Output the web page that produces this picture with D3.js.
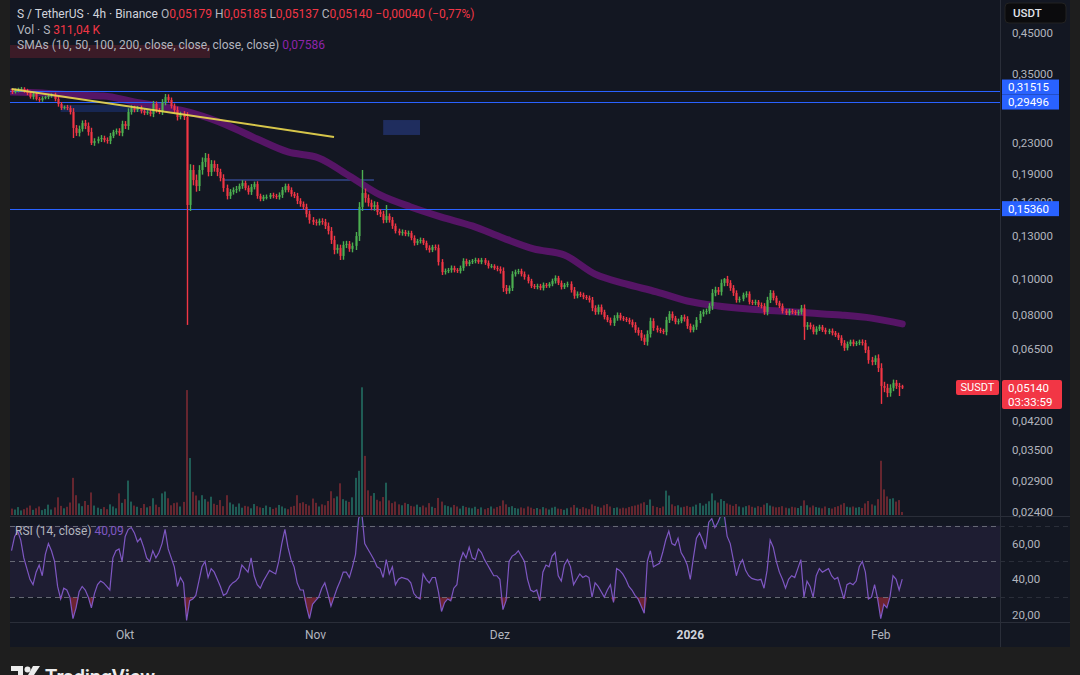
<!DOCTYPE html>
<html>
<head>
<meta charset="utf-8">
<script src="https://cdn.jsdelivr.net/npm/d3@7"></script>
<style>
  html, body { margin: 0; padding: 0; background: #1e1e1e; }
  svg { display: block; font-family: "Roboto", "Liberation Sans", sans-serif; }
</style>
</head>
<body>
<svg id="chart" width="1080" height="675"></svg>
<script>
// ---- data (12h bars), first bar 12 Sep 2025 12:00 UTC ----
const firstOpen = 0.3156;
const closes = [
  .3136,.3175,.3175,.3194,.3156,.3117,.3042,.3098,.3005,.2987,
  .3023,.3041,.3060,.3079,.3005,.2914,.2844,.2861,.2844,.2775,
  .2517,.2441,.2501,.2594,.2547,.2456,.2295,.2324,.2352,.2367,
  .2338,.2324,.2396,.2456,.2471,.2441,.2579,.2547,.2775,.2844,
  .2809,.2844,.2792,.2758,.2775,.2741,.2914,.2809,.2775,.2950,
  .3041,.2987,.2878,.2809,.2691,.2741,.2691,.1571,.1946,.1830,
  .1764,.1946,.2044,.2094,.1922,.2019,.1970,.1922,.1853,.1743,
  .1660,.1701,.1722,.1732,.1764,.1797,.1743,.1701,.1754,.1786,
  .1660,.1630,.1650,.1650,.1670,.1660,.1650,.1670,.1722,.1764,
  .1722,.1680,.1660,.1610,.1581,.1552,.1486,.1433,.1416,.1407,
  .1424,.1416,.1382,.1340,.1268,.1193,.1208,.1150,.1230,.1238,
  .1201,.1223,.1299,.1552,.1690,.1640,.1591,.1552,.1571,.1505,
  .1486,.1433,.1468,.1433,.1382,.1340,.1323,.1331,.1315,.1323,
  .1284,.1245,.1260,.1268,.1245,.1208,.1193,.1215,.1208,.1108,
  .1042,.1049,.1055,.1068,.1055,.1049,.1068,.1115,.1095,.1108,
  .1115,.1122,.1108,.1122,.1102,.1081,.1081,.1068,.1062,.1049,
  .0945,.0928,.0945,.1029,.1042,.1049,.1029,.1011,.0987,.0957,
  .0951,.0957,.0945,.0963,.0957,.0969,.0987,.1005,.0975,.0951,
  .0963,.0969,.0934,.0901,.0912,.0906,.0895,.0889,.0878,.0836,
  .0816,.0841,.0816,.0791,.0777,.0763,.0786,.0801,.0786,.0782,
  .0777,.0768,.0754,.0731,.0718,.0697,.0680,.0713,.0772,.0740,
  .0731,.0727,.0722,.0777,.0806,.0786,.0768,.0772,.0791,.0782,
  .0749,.0731,.0745,.0777,.0806,.0816,.0821,.0847,.0917,.0934,
  .0923,.0975,.0999,.0975,.0945,.0917,.0878,.0884,.0906,.0912,
  .0868,.0863,.0868,.0852,.0847,.0816,.0878,.0917,.0889,.0863,
  .0847,.0821,.0811,.0821,.0816,.0811,.0816,.0836,.0745,.0754,
  .0745,.0722,.0736,.0745,.0731,.0722,.0727,.0718,.0709,.0697,
  .0675,.0655,.0671,.0680,.0671,.0675,.0680,.0675,.0647,.0608,
  .0601,.0615,.0579,.0519,.0513,.0497,.0513,.0529,.0519,.0518,
  .0514
];
// wick length beyond the body, in percent of price
const wickPct = [
  1.2,0.9,1.4,0.8,1.1,1.3,1.0,1.5,0.9,1.2,
  1.1,0.8,1.3,1.0,1.4,1.6,1.2,0.9,1.3,1.5,
  2.4,1.8,2.1,1.6,1.9,2.2,2.6,1.7,1.5,1.8,
  1.4,1.6,1.9,1.3,1.5,1.7,2.0,1.8,2.3,1.6,
  1.4,1.2,1.5,1.3,1.1,1.4,1.9,1.6,1.3,1.8,
  2.0,1.7,1.5,1.6,2.1,1.4,1.8,3.0,3.6,3.2,
  3.4,3.0,2.8,3.1,2.6,2.4,2.2,2.5,2.0,2.3,
  2.1,1.8,1.6,1.9,1.5,1.7,1.4,1.6,1.8,1.5,
  1.7,1.4,1.3,1.5,1.2,1.4,1.3,1.6,1.8,1.5,
  1.4,1.6,1.3,1.9,1.7,1.5,2.0,2.2,1.8,1.6,
  1.5,1.7,1.9,2.1,2.4,2.6,2.2,2.0,2.3,1.9,
  1.8,2.1,2.5,3.0,2.4,2.8,2.2,2.0,2.3,1.9,
  1.8,2.0,1.7,1.6,1.8,1.5,1.4,1.6,1.3,1.5,
  1.4,1.6,1.3,1.5,1.2,1.4,1.6,1.3,1.5,2.1,
  1.8,1.5,1.3,1.6,1.4,1.2,1.5,1.7,1.4,1.3,
  1.2,1.4,1.1,1.3,1.2,1.5,1.3,1.1,1.4,1.6,
  2.2,1.9,1.6,1.8,1.5,1.3,1.4,1.6,1.5,1.3,
  1.2,1.4,1.3,1.5,1.2,1.1,1.4,1.6,1.3,1.5,
  1.2,1.4,1.6,1.8,1.5,1.3,1.4,1.2,1.5,1.9,
  1.7,1.5,1.6,1.4,1.3,1.5,1.8,1.6,1.4,1.3,
  1.2,1.4,1.5,1.7,1.6,1.8,2.0,2.3,2.1,1.7,
  1.5,1.4,1.3,2.0,1.8,1.6,1.4,1.5,1.3,1.6,
  1.7,1.5,1.4,1.8,1.9,1.6,1.5,1.7,2.4,2.0,
  1.8,2.2,2.0,1.9,1.7,1.8,1.6,1.5,1.4,1.6,
  1.5,1.3,1.4,1.2,1.5,1.7,2.0,1.8,1.5,1.4,
  1.3,1.5,1.2,1.4,1.3,1.2,1.4,1.6,2.2,1.8,
  1.5,1.4,1.6,1.3,1.2,1.4,1.3,1.5,1.2,1.4,
  1.6,1.8,1.5,1.3,1.4,1.2,1.3,1.5,1.9,2.2,
  2.0,1.8,2.4,3.0,2.6,2.5,2.2,2.0,1.8,1.9,
  0.9
];
// notable wicks: [bar index, price]
const wickHighs = [[3,.3235],[50,.3098],[114,.1946],[122,.1571],[232,.1005],[257,.0852]];
const wickLows = [[20,.2367],[26,.2267],[57,.0754],[107,.1122],[160,.0923],[206,.0667],[258,.0688],[283,.0465],[289,.0488]];

// volume in millions S
const volumes = [
  2.1,1.8,2.6,1.5,1.9,2.4,3.1,1.7,2.2,2.8,
  1.6,2.0,3.4,1.8,2.5,5.8,3.0,2.2,2.7,4.1,
  12.2,6.5,3.8,2.9,4.6,3.3,7.4,3.1,2.4,2.0,
  2.6,1.9,3.5,2.8,2.2,7.1,4.0,5.2,11.3,4.4,
  3.1,2.7,2.3,3.6,2.5,2.9,5.5,3.4,2.6,7.1,
  7.7,5.5,3.2,3.9,4.1,2.8,4.3,41.0,18.7,7.6,
  6.4,4.8,6.5,5.2,4.4,6.0,3.7,3.3,4.9,2.9,
  6.5,4.1,3.5,2.7,3.8,2.4,3.0,2.8,2.2,3.6,
  2.9,2.5,2.3,3.1,2.6,2.0,2.4,3.3,2.8,2.2,
  1.9,2.7,3.0,6.5,3.9,4.2,3.6,3.1,5.4,4.0,
  2.8,3.5,3.2,4.6,7.8,5.5,6.1,10.4,5.2,4.7,
  4.3,5.8,12.2,14.5,41.9,19.4,8.1,6.3,7.2,5.0,
  4.5,5.9,10.6,4.8,3.9,4.4,3.5,3.2,4.0,3.6,
  3.0,2.8,3.4,2.6,3.1,2.5,3.9,2.7,2.3,5.6,
  4.4,3.2,2.9,2.5,3.3,2.8,2.1,3.0,2.6,2.4,
  2.2,2.7,2.0,2.5,1.9,2.3,2.8,2.1,2.6,3.0,
  4.8,3.5,2.6,2.9,2.3,2.1,2.5,2.2,2.8,2.4,
  2.0,2.3,1.9,2.6,2.2,1.8,2.4,2.7,2.1,2.0,
  1.7,2.2,2.5,3.3,2.4,2.0,2.6,2.2,1.9,3.5,
  3.0,2.7,2.4,3.2,3.6,2.8,2.3,2.5,2.1,2.4,
  2.2,2.6,2.9,3.1,3.4,3.8,4.2,3.3,5.1,3.0,
  2.6,2.3,2.8,8.0,6.4,3.5,2.9,3.2,2.5,2.7,
  3.0,2.6,2.8,3.4,3.9,3.1,3.7,4.5,7.1,4.8,
  4.1,5.2,4.6,3.8,3.4,3.0,3.6,2.8,2.5,2.9,
  3.2,2.7,2.4,2.9,2.6,3.4,3.9,3.1,2.8,2.5,
  2.6,2.9,2.4,2.2,2.7,2.5,2.3,3.0,4.8,3.2,
  2.5,3.1,2.6,2.4,2.2,2.8,2.3,2.1,2.6,2.9,
  3.4,3.9,2.7,2.5,2.8,2.4,2.6,2.3,3.8,4.6,
  3.5,3.1,5.2,17.8,8.4,6.1,5.3,5.5,4.4,4.9,
  1.0
];

const rsiValues = [
  56,64,67,62,52,46,40,37,44,48,
  42,54,60,56,50,36,29,35,34,30,
  18,24,33,36,34,30,24,32,37,39,
  38,36,34,52,56,57,50,64,68,69,
  66,61,63,58,52,50,56,52,55,60,
  68,57,52,47,36,41,38,17,28,29,
  31,39,47,50,41,46,44,40,36,31,
  32,36,38,39,41,48,46,44,52,42,
  37,35,39,42,45,44,43,50,60,68,
  58,51,47,38,34,34,25,18,26,28,
  30,35,38,32,25,30,35,39,44,44,
  41,47,54,74,78,60,57,54,51,47,
  46,41,51,43,47,37,40,41,40.5,40,
  38,32,30,29,43,40,38,41,41,33,
  22,27,29,28,35,37,50,55,52,58,
  52,51,57,55,51,48,45,42,42,40,
  23,28,50,53,54,56,53,50,40,34,
  33,34,28,44,48,47,53,55,42,39,
  48,51,47,37,40,43,41,42,41,30,
  38,36,33,30,34,37,27,46,45,43,
  40,36,34,31,29,25,21,50,56,47,
  48,49,55,62,67,60,59,63,55,52,
  48,40,52,63,66,62,57,72,74,69,
  72,76,77,64,60,51,42,48,51,45,
  42,40.5,40,39.5,40,35,45,62,58,50,
  44,40,35,40,42,41,46,51,30,39,
  36,30,42,46,44,45,46,42,40,41,
  35,29,37,38,37,39,47,50,44,29,
  30,37,29,18,26,24,30,42,40,34,
  40.09
];

// SMA 200 read every 10 bars
const smaValues = [
  .3136,.3117,.3079,.3060,.2950,.2861,.2741,.2563,.2352,.2173,
  .2094,.1876,.1670,.1552,.1459,.1382,.1284,.1201,.1157,.1029,
  .0969,.0923,.0873,.0847,.0831,.0821,.0811,.0801,.0786,.07586
];
const smaStep = 10;

const levels = [0.31515, 0.29496, 0.15360];
const trendLine = [[0, 0.3194], [105, 0.2382]];
const priceTicks = [0.45, 0.35, 0.23, 0.19, 0.16, 0.13, 0.10, 0.08, 0.065, 0.042, 0.035, 0.029, 0.024];
const rsiTicks = [60, 40, 20];
const rsiLevels = [70, 50, 30];
const monthTicks = [["2025-10-01", "Okt"], ["2025-11-01", "Nov"], ["2025-12-01", "Dez"], ["2026-01-01", "2026"], ["2026-02-01", "Feb"]];
const lastBar = { o: 0.05179, h: 0.05185, l: 0.05137, c: 0.05140, chg: -0.00040, pct: -0.77, vol: "311,04 K" };
const lastRsi = 40.09;
const countdown = "03:33:59";

// ---- setup ----
const up = "#4caf50", down = "#f23645";
const volUp = "#1f5c55", volDown = "#66262f";
const t0 = Date.UTC(2025, 8, 12, 12);
const bars = closes.map((c, i) => ({
  i, c,
  t: new Date(t0 + i * 12 * 3600e3),
  o: i ? closes[i - 1] : firstOpen,
  v: volumes[i], rsi: rsiValues[i], w: wickPct[i] / 100
}));
bars.forEach(b => {
  b.h = Math.max(b.o, b.c) * (1 + b.w);
  b.l = Math.min(b.o, b.c) * (1 - b.w);
});
wickHighs.forEach(([i, p]) => bars[i].h = p);
wickLows.forEach(([i, p]) => bars[i].l = p);

const svg = d3.select("#chart");
const L = 10, R = 1000, PR = 1070;
const x = d3.scaleUtc().domain([Date.UTC(2025, 8, 12, 6), Date.UTC(2026, 1, 20, 10)]).range([L, R]);
const y = d3.scaleLog().domain([0.45, 0.024]).range([33, 512]);
const yv = d3.scaleLinear().domain([0, 42]).range([515, 387]);
const yr = d3.scaleLinear().domain([20, 60]).range([615, 543.6]);
const comma = s => s.replace(".", ",").replace("-", "\u2212");
const f5 = p => comma(d3.format(".5f")(p));
const col = d => d.c >= d.o ? up : down;

// panel background
svg.append("rect").attr("x", L).attr("y", 0).attr("width", PR - L).attr("height", 647).attr("fill", "#131722");

const defs = svg.append("defs");
defs.append("clipPath").attr("id", "mainClip").append("rect").attr("x", L).attr("y", 0).attr("width", R - L).attr("height", 516);
defs.append("clipPath").attr("id", "rsiClip").append("rect").attr("x", L).attr("y", 517).attr("width", R - L).attr("height", 105);

const main = svg.append("g").attr("clip-path", "url(#mainClip)");

// drawings: boxes and lines
main.append("rect").attr("x", L).attr("y", 45).attr("width", 200).attr("height", 13).attr("fill", "#3b1b27");
main.append("rect").attr("x", x(bars[16].t)).attr("y", y(0.2896)).attr("width", x(bars[46].t) - x(bars[16].t))
  .attr("height", y(0.2775) - y(0.2896)).attr("fill", "#2962ff").attr("opacity", 0.22);
main.append("rect").attr("x", x(bars[121].t)).attr("y", y(0.2642)).attr("width", x(bars[133].t) - x(bars[121].t))
  .attr("height", y(0.2411) - y(0.2642)).attr("fill", "#1f2d5e");
main.append("line").attr("x1", x(bars[69].t)).attr("x2", x(bars[118].t)).attr("y1", y(0.1830)).attr("y2", y(0.1830))
  .attr("stroke", "#2a3a70").attr("stroke-width", 2);

// volume
main.append("g").selectAll("rect").data(bars).join("rect")
  .attr("x", d => Math.round(x(d.t)) - 1).attr("width", 2)
  .attr("y", d => yv(d.v)).attr("height", d => 515 - yv(d.v))
  .attr("fill", d => d.c >= d.o ? volUp : volDown);

// SMA
const sma = smaValues.map((p, k) => ({ t: bars[k * smaStep].t, p }));
main.append("path").datum(sma)
  .attr("d", d3.line().x(d => x(d.t)).y(d => y(d.p)).curve(d3.curveMonotoneX))
  .attr("fill", "none").attr("stroke", "#561566").attr("stroke-width", 7).attr("stroke-linecap", "round");

// horizontal levels
main.append("g").selectAll("line").data(levels).join("line")
  .attr("x1", L).attr("x2", R).attr("y1", d => Math.round(y(d)) + 0.5).attr("y2", d => Math.round(y(d)) + 0.5)
  .attr("stroke", "#2962ff").attr("stroke-width", 1);

// candles
const cg = main.append("g");
cg.selectAll("line").data(bars).join("line")
  .attr("x1", d => Math.round(x(d.t)) + 0.5).attr("x2", d => Math.round(x(d.t)) + 0.5)
  .attr("y1", d => y(d.h)).attr("y2", d => y(d.l))
  .attr("stroke", col).attr("stroke-width", 1.4);
cg.selectAll("rect").data(bars).join("rect")
  .attr("x", d => Math.round(x(d.t)) - 0.5).attr("width", 2)
  .attr("y", d => y(Math.max(d.o, d.c)))
  .attr("height", d => Math.max(1, y(Math.min(d.o, d.c)) - y(Math.max(d.o, d.c))))
  .attr("fill", col);

// yellow trend line
main.append("line")
  .attr("x1", x(bars[trendLine[0][0]].t)).attr("y1", y(trendLine[0][1]))
  .attr("x2", x(bars[trendLine[1][0]].t)).attr("y2", y(trendLine[1][1]))
  .attr("stroke", "#ecd94f").attr("stroke-width", 2).attr("opacity", 0.9);

// ---- RSI pane ----
const rg = svg.append("g").attr("clip-path", "url(#rsiClip)");
rg.append("rect").attr("x", L).attr("y", yr(70)).attr("width", R - L).attr("height", yr(30) - yr(70))
  .attr("fill", "#7e57c2").attr("opacity", 0.1);
rg.append("path").datum(bars)
  .attr("d", d3.area().x(d => x(d.t)).y0(yr(30)).y1(d => yr(Math.min(d.rsi, 30))))
  .attr("fill", "#f23645").attr("opacity", 0.4);
rg.append("path").datum(bars)
  .attr("d", d3.area().x(d => x(d.t)).y0(yr(70)).y1(d => yr(Math.max(d.rsi, 70))))
  .attr("fill", "#089981").attr("opacity", 0.15);
rg.append("g").selectAll("line").data(rsiLevels).join("line")
  .attr("x1", L).attr("x2", R).attr("y1", d => Math.round(yr(d)) + 0.5).attr("y2", d => Math.round(yr(d)) + 0.5)
  .attr("stroke", "#787b86").attr("stroke-dasharray", "5,4").attr("opacity", 0.8);
rg.append("path").datum(bars)
  .attr("d", d3.line().x(d => x(d.t)).y(d => yr(d.rsi)))
  .attr("fill", "none").attr("stroke", "#7e57c2").attr("stroke-width", 1.2);

// dashed levels also run under the price scale
svg.append("g").selectAll("line").data(rsiLevels).join("line")
  .attr("x1", R).attr("x2", PR).attr("y1", d => Math.round(yr(d)) + 0.5).attr("y2", d => Math.round(yr(d)) + 0.5)
  .attr("stroke", "#2a2e39").attr("stroke-dasharray", "5,4");

// separators
svg.append("line").attr("x1", R + 0.5).attr("x2", R + 0.5).attr("y1", 0).attr("y2", 647).attr("stroke", "#2a2e39");
svg.append("line").attr("x1", L).attr("x2", PR).attr("y1", 516.5).attr("y2", 516.5).attr("stroke", "#2a2e39");
svg.append("line").attr("x1", L).attr("x2", PR).attr("y1", 622.5).attr("y2", 622.5).attr("stroke", "#2a2e39");

// ---- price scale ----
const axisText = "#b2b5be";
svg.append("g").selectAll("text").data(priceTicks).join("text")
  .attr("x", 1012).attr("y", d => y(d)).attr("dy", "0.35em")
  .attr("fill", axisText).attr("font-size", 11.5).text(f5);
svg.append("g").selectAll("text").data(rsiTicks).join("text")
  .attr("x", 1012).attr("y", d => yr(d)).attr("dy", "0.35em")
  .attr("fill", axisText).attr("font-size", 11.5).text(d => comma(d3.format(".2f")(d)));

// USDT box
svg.append("rect").attr("x", 1005).attr("y", 3).attr("width", 61).attr("height", 20).attr("rx", 4)
  .attr("fill", "#0b0b0d").attr("stroke", "#222");
svg.append("text").attr("x", 1013).attr("y", 17).attr("fill", "#e0e3eb").attr("font-size", 11.5).attr("font-weight", 500).text("USDT");

// level labels (upper one pushed up when crowded)
const lvlPos = levels.map(d => y(d));
if (lvlPos[1] - lvlPos[0] < 15) lvlPos[0] = lvlPos[1] - 15;
const lg = svg.append("g");
levels.forEach((d, k) => {
  lg.append("rect").attr("x", 1002).attr("y", lvlPos[k] - 7.5).attr("width", 57).attr("height", 15).attr("fill", "#2962ff");
  lg.append("text").attr("x", 1008).attr("y", lvlPos[k]).attr("dy", "0.35em").attr("fill", "#fff").attr("font-size", 11.5).text(f5(d));
});

// last price labels
const yl = y(lastBar.c);
svg.append("rect").attr("x", 956).attr("y", yl - 7.5).attr("width", 43).attr("height", 15).attr("rx", 2).attr("fill", down);
svg.append("text").attr("x", 977.5).attr("y", yl).attr("dy", "0.35em").attr("text-anchor", "middle")
  .attr("fill", "#fff").attr("font-size", 11).text("SUSDT");
svg.append("rect").attr("x", 1002).attr("y", yl - 7.5).attr("width", 60).attr("height", 29).attr("rx", 2).attr("fill", down);
svg.append("text").attr("x", 1008).attr("y", yl).attr("dy", "0.35em").attr("fill", "#fff").attr("font-size", 11.5).text(f5(lastBar.c));
svg.append("text").attr("x", 1008).attr("y", yl + 14).attr("dy", "0.35em").attr("fill", "#fff").attr("font-size", 11.5).text(countdown);

// ---- time axis ----
svg.append("g").selectAll("text").data(monthTicks).join("text")
  .attr("x", d => x(new Date(d[0] + "T00:00:00Z"))).attr("y", 639)
  .attr("text-anchor", "middle").attr("font-size", 12)
  .attr("font-weight", d => d[1] === "2026" ? 700 : 400)
  .attr("fill", d => d[1] === "2026" ? "#d1d4dc" : axisText)
  .text(d => d[1]);

// ---- legends ----
const legend = svg.append("g").attr("font-size", 12);
const grey = "#b2b5be";
let t1 = legend.append("text").attr("x", 17).attr("y", 18);
t1.append("tspan").attr("fill", "#d1d4dc").text("S / TetherUS · 4h · Binance  ");
[["O", lastBar.o], ["H", lastBar.h], ["L", lastBar.l], ["C", lastBar.c]].forEach(([k, v]) => {
  t1.append("tspan").attr("fill", grey).text(k);
  t1.append("tspan").attr("fill", down).text(f5(v) + "  ");
});
t1.append("tspan").attr("fill", down).text(f5(lastBar.chg) + " (" + comma(d3.format(".2f")(lastBar.pct)) + "%)");

let t2 = legend.append("text").attr("x", 17).attr("y", 34);
t2.append("tspan").attr("fill", grey).text("Vol · S  ");
t2.append("tspan").attr("fill", down).text(lastBar.vol);

let t3 = legend.append("text").attr("x", 17).attr("y", 49);
t3.append("tspan").attr("fill", grey).text("SMAs (10, 50, 100, 200, close, close, close, close)  ");
t3.append("tspan").attr("fill", "#8e24aa").text(f5(smaValues[smaValues.length - 1]));

let t4 = legend.append("text").attr("x", 15).attr("y", 535);
t4.append("tspan").attr("fill", grey).text("RSI (14, close)  ");
t4.append("tspan").attr("fill", "#7e57c2").text(comma(d3.format(".2f")(lastRsi)));

// ---- TradingView logo ----
const logo = svg.append("g").attr("fill", "#ececec");
logo.append("path").attr("d", "M11 666 h12 v9 h-5 v-4 h-7 z");
logo.append("circle").attr("cx", 27.5).attr("cy", 669.5).attr("r", 3);
logo.append("path").attr("d", "M33 666 h7 l-6 9 h-6 z");
logo.append("text").attr("x", 45).attr("y", 684).attr("font-size", 20).attr("font-weight", 600)
  .attr("textLength", 110).text("TradingView");
</script>
</body>
</html>
